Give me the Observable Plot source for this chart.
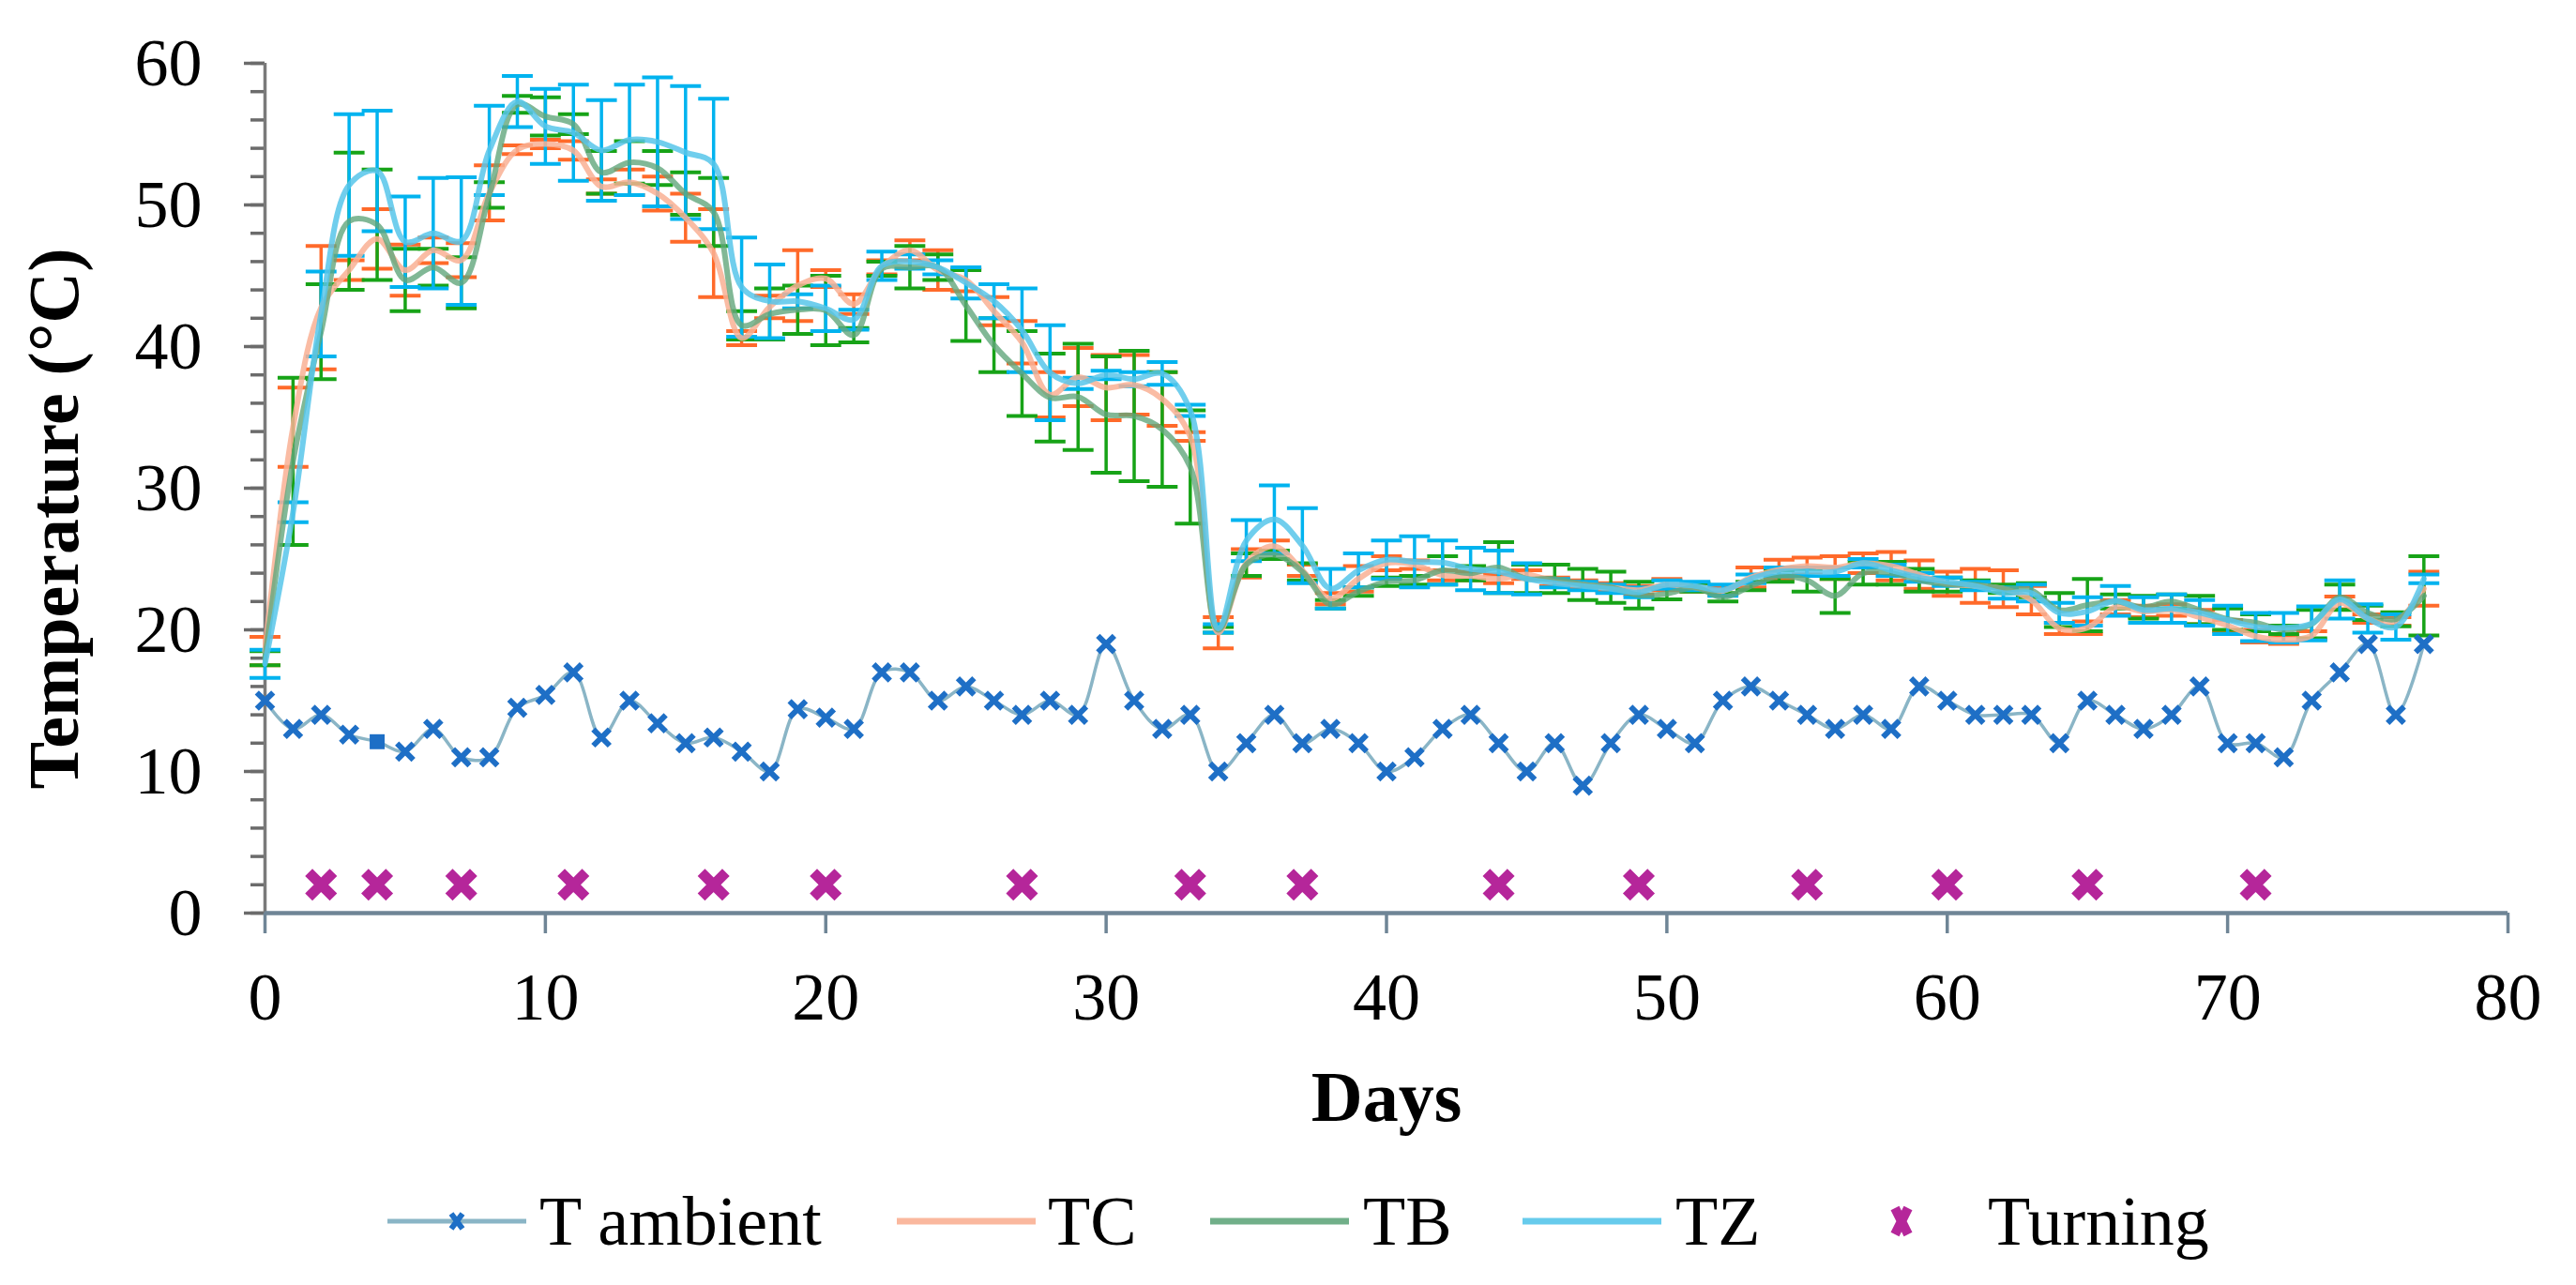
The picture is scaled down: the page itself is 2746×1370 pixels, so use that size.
<!DOCTYPE html>
<html><head><meta charset="utf-8">
<script src="https://cdn.jsdelivr.net/npm/d3@7"></script>
<script src="https://cdn.jsdelivr.net/npm/@observablehq/plot@0.6"></script>
<style>
body{margin:0;background:#fff;}
#wrap{width:2746px;height:1370px;position:relative;background:#fff;font-family:"Liberation Serif","Times New Roman",serif;color:#000;}
#legend{position:absolute;left:0;top:1265px;height:74px;width:2746px;font-size:74px;line-height:74px;}
.item{position:absolute;top:0;height:74px;display:flex;align-items:center;white-space:nowrap;}
.item svg{display:block;}
.axis-title{position:absolute;font-weight:bold;font-size:76px;line-height:76px;white-space:nowrap;}
#ytitle{left:57px;top:553px;transform:translate(-50%,-50%) rotate(-90deg);}
#xtitle{left:1478px;top:1131px;transform:translateX(-50%);}
</style></head><body><div id="wrap"><div id="chart"></div><div id="ytitle" class="axis-title"></div><div id="xtitle" class="axis-title"></div><div id="legend"></div></div>
<script>
const days = [0,1,2,3,4,5,6,7,8,9,10,11,12,13,14,15,16,17,18,19,20,21,22,23,24,25,26,27,28,29,30,31,32,33,34,35,36,37,38,39,40,41,42,43,44,45,46,47,48,49,50,51,52,53,54,55,56,57,58,59,60,61,62,63,64,65,66,67,68,69,70,71,72,73,74,75,76,77];

const ambient = [15,13,14,12.6,12.1,11.4,13,11,11,14.5,15.4,17,12.4,15,13.4,12,12.4,11.4,10,14.4,13.8,13,17,17,15,16,15,14,15,14,19,15,13,14,10,12,14,12,13,12,10,11,13,14,12,10,12,9,12,14,13,12,15,16,15,14,13,14,13,16,15,14,14,14,12,15,14,13,14,16,12,12,11,15,17,19,14,19];
const ambientSquareDays = [4];

const tcMean = [18.5,34.3,42.75,45.4,47.6,45.4,46.8,46.1,50.85,53.9,54.3,53.85,51.3,51.6,50.8,49.1,46.6,40.6,42.8,44.3,44.8,43.0,45.6,46.8,45.4,44.7,42.5,40.3,36.6,37.85,37.1,37.3,36.3,33.65,19.8,24.7,25.9,24.2,22.2,23.6,24.7,24.6,23.85,23.8,23.6,23.9,23.4,23.2,23.0,22.8,23.2,23.0,22.75,23.7,24.25,24.5,24.4,24.7,24.5,23.9,23.25,23.1,22.9,22.1,20.1,20.15,21.6,21.3,21.4,20.9,20.3,19.55,19.3,19.6,21.9,20.8,20.6,22.9];
const tcErr = [1.0,2.8,4.35,0.7,2.1,1.8,0.9,1.2,1.95,0.3,0.3,0.65,0.5,0.9,1.2,1.7,3.1,0.5,0.8,2.5,0.6,0.7,0.5,0.7,1.4,0.8,1.0,1.5,1.6,2.05,2.3,2.1,1.9,0.3,1.1,1.0,0.4,0.4,0.4,0.9,0.5,0.3,0.35,0.3,0.3,0.3,0.3,0.3,0.3,0.3,0.4,0.3,0.3,0.7,0.7,0.6,0.8,0.7,1.0,1.0,0.85,1.2,1.3,1.0,0.4,0.45,0.5,0.4,0.4,0.5,0.4,0.45,0.3,0.3,0.45,0.3,0.3,1.2];

const tbMean = [18.0,31.9,41.05,48.85,48.6,44.7,45.6,44.5,50.7,57.1,56.25,55.7,52.3,53.0,52.6,50.8,49.5,41.5,42.3,42.6,42.55,40.8,45.5,45.6,45.6,42.9,40.1,38.1,36.4,36.45,35.2,35.1,34.15,31.5,20.0,24.6,25.3,24.1,21.8,22.7,23.4,23.5,24.2,24.0,24.4,23.6,23.6,23.2,23.0,22.45,22.55,23.0,22.3,23.1,23.8,23.5,22.4,24.0,24.0,23.5,23.2,23.2,22.9,22.8,21.4,21.75,22.0,21.6,22.0,21.4,20.75,20.5,20.0,20.4,22.3,21.2,20.75,22.4];
const tbErr = [0.5,5.9,3.35,4.85,3.9,2.2,1.3,1.8,0.9,0.6,1.35,0.7,1.5,1.5,1.2,1.5,2.4,1.0,1.8,1.7,2.45,0.5,0.5,1.5,0.9,2.5,1.9,3.0,3.1,3.75,4.1,4.6,4.05,4.0,0.2,0.8,0.3,0.6,0.3,0.3,0.3,0.3,1.0,0.5,1.8,1.0,1.0,1.1,1.1,0.95,0.4,0.3,0.3,0.3,0.4,0.8,1.2,0.8,0.8,0.8,0.5,0.3,0.3,0.5,1.2,1.85,0.5,0.8,0.5,1.0,0.75,0.6,0.3,1.0,0.9,0.5,0.5,2.8];

const tzMean = [17.6,28.3,42.3,51.4,52.4,47.4,48.0,47.45,53.85,57.3,55.55,55.1,53.85,54.6,54.45,53.7,52.9,44.2,43.2,43.2,42.7,41.9,45.7,46.0,45.6,44.5,43.2,41.15,38.15,37.4,38.0,37.7,38.1,35.5,20.1,26.3,27.8,25.95,22.9,24.2,24.95,24.8,24.75,24.3,24.1,23.6,23.3,23.1,22.9,22.65,23.2,23.1,22.8,23.6,24.1,24.1,24.1,24.7,24.2,23.7,23.4,23.1,22.6,22.6,21.2,21.3,22.05,21.4,21.5,21.2,20.7,20.2,20.15,20.45,22.15,20.8,20.2,23.6];
const tzErr = [1.0,0.7,3.0,5.0,4.25,3.2,3.9,4.5,3.15,1.8,2.65,3.4,3.55,3.9,4.55,4.7,4.6,3.5,2.6,0.5,1.6,0.7,1.0,0.5,0.5,1.1,1.2,2.95,3.35,0.4,0.3,0.5,0.8,0.4,0.3,1.45,2.4,2.65,1.4,1.2,1.35,1.8,1.55,1.5,1.5,1.1,0.3,0.3,0.3,0.35,0.3,0.3,0.4,0.3,0.3,0.3,0.3,0.3,0.4,0.3,0.3,0.3,0.4,0.6,0.7,1.0,1.05,0.9,1.0,0.9,1.0,1.0,1.05,1.2,1.35,1.0,0.9,0.3];

const turningDays = [2,4,7,11,16,20,27,33,37,44,49,55,60,65,71];
const turningLevel = 2;

const xTicks = [0,10,20,30,40,50,60,70,80];
const yTicks = [0,10,20,30,40,50,60];
const yMinorTicks = [0,2,4,6,8,10,12,14,16,18,20,22,24,26,28,30,32,34,36,38,40,42,44,46,48,50,52,54,56,58,60];

const yTitle = "Temperature (°C)";
const xTitle = "Days";

const colors = {
  ambientLine: "#8ab5c6", ambientMark: "#1e6fc6",
  tcLine: "#f9b094", tcErr: "#ff6a2a",
  tbLine: "#62a67c", tbErr: "#17a317",
  tzLine: "#57c5ea", tzErr: "#00b3ef",
  turning: "#b5269a"
};

const rows = days.map((d, i) => ({
  day: d, amb: ambient[i],
  tc: tcMean[i], tcE: tcErr[i],
  tb: tbMean[i], tbE: tbErr[i],
  tz: tzMean[i], tzE: tzErr[i]
}));

const capHalf = 0.55;
function errorBars(key, errKey, color) {
  return [
    Plot.ruleX(rows, {x: "day", y1: d => d[key] - d[errKey], y2: d => d[key] + d[errKey], stroke: color, strokeWidth: 3.5}),
    Plot.link(rows, {x1: d => d.day - capHalf, x2: d => d.day + capHalf, y1: d => d[key] + d[errKey], y2: d => d[key] + d[errKey], stroke: color, strokeWidth: 4}),
    Plot.link(rows, {x1: d => d.day - capHalf, x2: d => d.day + capHalf, y1: d => d[key] - d[errKey], y2: d => d[key] - d[errKey], stroke: color, strokeWidth: 4})
  ];
}

const ambRows = rows.filter(r => !ambientSquareDays.includes(r.day));
const ambSqRows = rows.filter(r => ambientSquareDays.includes(r.day));

const chart = Plot.plot({
  width: 2746, height: 1230,
  marginLeft: 282, marginRight: 73, marginTop: 67, marginBottom: 257,
  x: {domain: [0, 80]},
  y: {domain: [0, 60]},
  style: {fontFamily: '"Liberation Serif","Times New Roman",serif', color: "#000", background: "#fff"},
  marks: [
    Plot.axisY(yMinorTicks, {tickSize: 15, tickFormat: () => "", stroke: "#6b6b6b", strokeWidth: 3.5, label: null}),
    Plot.axisY(yTicks, {tickSize: 22, tickPadding: 45, stroke: "#6b6b6b", strokeWidth: 3.5, fontSize: 72, label: null}),
    Plot.axisX(xTicks, {tickSize: 22, tickPadding: 40, stroke: "#6f8596", strokeWidth: 3.5, fontSize: 72, label: null}),
    Plot.ruleX([0], {y1: 0, y2: 60, stroke: "#7a7a7a", strokeWidth: 3.5}),
    Plot.ruleY([0], {x1: 0, x2: 80, stroke: "#6f8596", strokeWidth: 4.5}),
    ...errorBars("tc", "tcE", colors.tcErr),
    ...errorBars("tb", "tbE", colors.tbErr),
    ...errorBars("tz", "tzE", colors.tzErr),
    Plot.line(rows, {x: "day", y: "tc", curve: "catmull-rom", stroke: colors.tcLine, strokeWidth: 6, strokeOpacity: 0.85}),
    Plot.line(rows, {x: "day", y: "tb", curve: "catmull-rom", stroke: colors.tbLine, strokeWidth: 6, strokeOpacity: 0.8}),
    Plot.line(rows, {x: "day", y: "tz", curve: "catmull-rom", stroke: colors.tzLine, strokeWidth: 6, strokeOpacity: 0.85}),
    Plot.line(rows, {x: "day", y: "amb", curve: "catmull-rom", stroke: colors.ambientLine, strokeWidth: 3.5}),
    Plot.dot(ambRows, {x: "day", y: "amb", symbol: "times", r: 8, stroke: colors.ambientMark, strokeWidth: 6}),
    Plot.dot(ambSqRows, {x: "day", y: "amb", symbol: "square", r: 9, fill: colors.ambientMark, stroke: "none"}),
    Plot.dot(turningDays, {x: d => d, y: () => turningLevel, symbol: "times", r: 12, stroke: colors.turning, strokeWidth: 11})
  ]
});
document.getElementById("chart").appendChild(chart);
document.getElementById("ytitle").textContent = yTitle;
document.getElementById("xtitle").textContent = xTitle;

// Legend
const legendItems = [
  {label: "T ambient", left: 413, kind: "ambient", gap: 14},
  {label: "TC", left: 956, kind: "line", color: colors.tcLine, gap: 13},
  {label: "TB", left: 1290, kind: "line", color: colors.tbLine, gap: 15},
  {label: "TZ", left: 1623, kind: "line", color: colors.tzLine, gap: 15},
  {label: "Turning", left: 1953, kind: "turning", gap: 18}
];
const legend = document.getElementById("legend");
const ns = "http://www.w3.org/2000/svg";
for (const it of legendItems) {
  const div = document.createElement("div");
  div.className = "item";
  div.style.left = it.left + "px";
  const svg = document.createElementNS(ns, "svg");
  svg.setAttribute("width", 148); svg.setAttribute("height", 40);
  const mk = (tag, attrs) => { const e = document.createElementNS(ns, tag); for (const k in attrs) e.setAttribute(k, attrs[k]); svg.appendChild(e); return e; };
  if (it.kind === "ambient") {
    mk("line", {x1: 0, x2: 148, y1: 20, y2: 20, stroke: colors.ambientLine, "stroke-width": 5});
    mk("path", {d: "M68,12L80,28M80,12L68,28", stroke: colors.ambientMark, "stroke-width": 6});
  } else if (it.kind === "line") {
    mk("line", {x1: 0, x2: 148, y1: 20, y2: 20, stroke: it.color, "stroke-width": 7, "stroke-opacity": 0.9});
  } else {
    mk("path", {d: "M67,6L81,34M81,6L67,34", stroke: colors.turning, "stroke-width": 10});
  }
  div.appendChild(svg);
  const span = document.createElement("span");
  span.textContent = it.label;
  span.style.marginLeft = it.gap + "px";
  div.appendChild(span);
  legend.appendChild(div);
}
</script></body></html>
